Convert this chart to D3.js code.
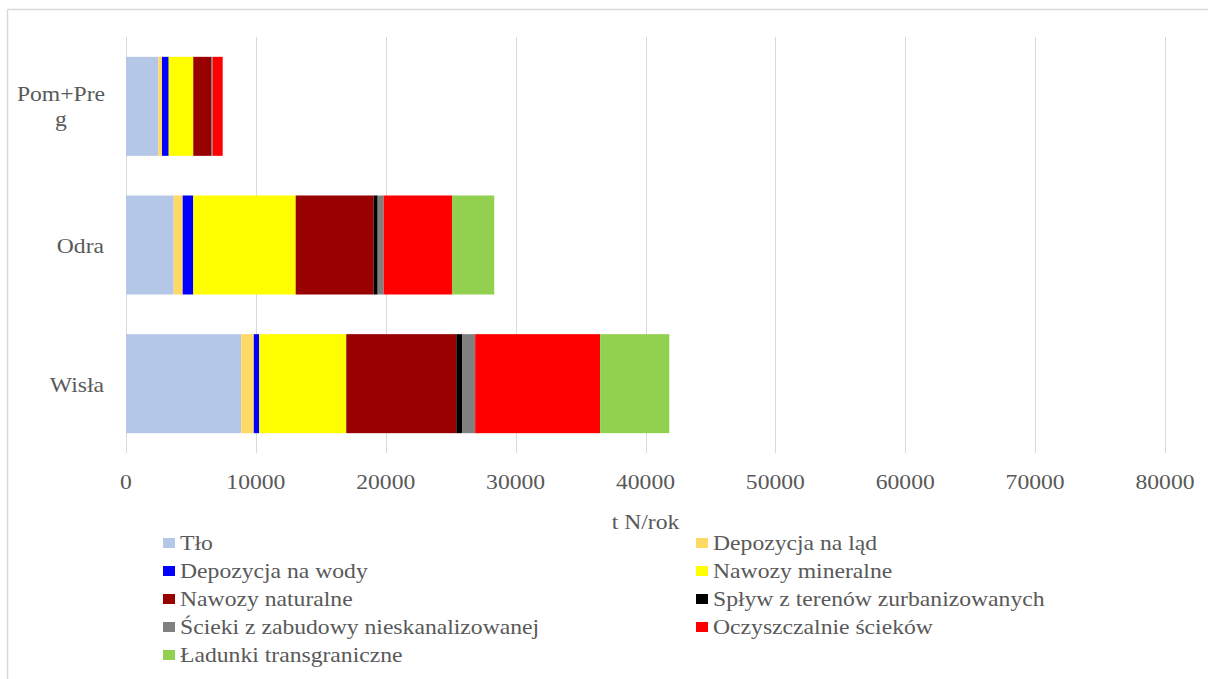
<!DOCTYPE html>
<html><head><meta charset="utf-8">
<script src="https://cdn.jsdelivr.net/npm/d3@7"></script>
<style>body{margin:0;background:#fff}svg{display:block}</style>
</head><body><svg id="c" width="1208" height="679"></svg>
<script>
const categories = ["Pom+Preg", "Odra", "Wisła"];
const seriesNames = ["Tło","Depozycja na ląd","Depozycja na wody","Nawozy mineralne","Nawozy naturalne","Spływ z terenów zurbanizowanych","Ścieki z zabudowy nieskanalizowanej","Oczyszczalnie ścieków","Ładunki transgraniczne"];
const seriesColors = ["#B4C7E7","#FFD966","#0000FF","#FFFF00","#990000","#000000","#808080","#FF0000","#92D050"];
const tlo        = [2487, 3672, 8870];
const depLad     = [284, 693, 970];
const depWody    = [516, 817, 416];
const nawMin     = [1894, 7883, 6704];
const nawNat     = [1386, 6005, 8470];
const splyw      = [28, 308, 445];
const scieki     = [80, 462, 1009];
const oczysz     = [769, 5260, 9623];
const ladunki    = [0, 3255, 5326];
const xTicks = [0,10000,20000,30000,40000,50000,60000,70000,80000];
const axisTitle = "t N/rok";

const FONT = '"Liberation Serif", "Times New Roman", Tinos, serif';
const seriesValues = [tlo, depLad, depWody, nawMin, nawNat, splyw, scieki, oczysz, ladunki];
const rows = categories.map((c,i)=>{const o={cat:c}; seriesNames.forEach((s,j)=>o[s]=seriesValues[j][i]); return o;});
const stack = d3.stack().keys(seriesNames)(rows);

const svg = d3.select("#c");
svg.append("line").attr("x1",7.5).attr("x2",1208).attr("y1",9.5).attr("y2",9.5).attr("stroke","#D9D9D9").attr("stroke-width",1.5);
svg.append("line").attr("x1",7.5).attr("x2",7.5).attr("y1",9.5).attr("y2",679).attr("stroke","#D9D9D9").attr("stroke-width",1.5);

const x = d3.scaleLinear().domain([0,80000]).range([126,1165]);
const y = d3.scaleBand().domain(categories).range([37,453]).paddingInner(0.286).paddingOuter(0.143);

svg.append("g").selectAll("line").data(xTicks).join("line")
  .attr("x1",d=>Math.round(x(d))+0.5).attr("x2",d=>Math.round(x(d))+0.5)
  .attr("y1",37).attr("y2",453).attr("stroke","#D9D9D9").attr("stroke-width",1);

svg.append("g").selectAll("g").data(stack).join("g")
  .attr("fill",(d,i)=>seriesColors[i])
  .selectAll("rect").data(d=>d).join("rect")
  .attr("x",d=>x(d[0])).attr("width",d=>Math.max(0,x(d[1])-x(d[0])))
  .attr("y",d=>y(d.data.cat)).attr("height",y.bandwidth());

// reference text is horizontally wider than the font; stretch slightly
const SX = 1.1;
function stext(g, tx, ty, anchor, str) {
  return g.append("text")
    .attr("transform",`translate(${tx},${ty}) scale(${SX},1)`)
    .attr("text-anchor",anchor)
    .style("font-family",FONT).style("font-size","21.5px").style("fill","#595959")
    .text(str);
}

const fmt = d3.format("d");
const gt = svg.append("g");
xTicks.forEach(t=>stext(gt, x(t), 489, "middle", fmt(t)));

const ga = svg.append("g");
categories.forEach(c=>{
  const cy = y(c)+y.bandwidth()/2;
  if (c==="Pom+Preg") {
    stext(ga, 61, cy-5, "middle", "Pom+Pre");
    stext(ga, 61, cy+20, "middle", "g");
  } else {
    stext(ga, 104, cy+8, "end", c);
  }
});

stext(svg, (x.range()[0]+x.range()[1])/2, 529, "middle", axisTitle);

const lg = svg.append("g");
const colX = [163, 696];
const rowY = [543, 571, 599, 627, 655];
seriesNames.forEach((s,i)=>{
  const cx = colX[i%2], cy = rowY[Math.floor(i/2)];
  lg.append("rect").attr("x",cx).attr("y",cy-5).attr("width",12).attr("height",10).attr("fill",seriesColors[i]);
  stext(lg, cx+17, cy+7, "start", s);
});
</script></body></html>
